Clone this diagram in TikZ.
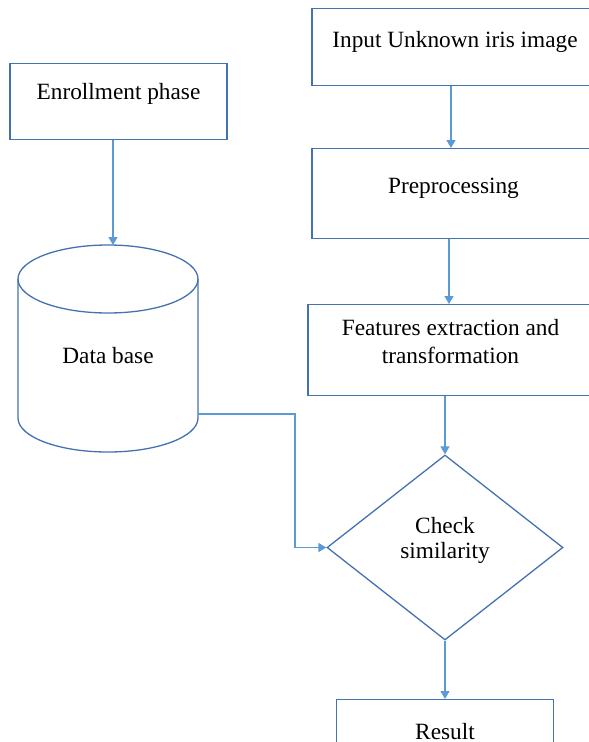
\documentclass[tikz,border=0pt]{standalone}
\usepackage{fontspec}
\setmainfont{Liberation Serif}
\usepackage{tikz}
\usetikzlibrary{arrows.meta,positioning,shapes.geometric}
\usepackage{xcolor}
\definecolor{boxblue}{RGB}{68,114,176}
\definecolor{arrowblue}{RGB}{91,155,213}

\begin{document}
\begin{tikzpicture}[x=1pt,y=-1pt,font=\fontsize{23.3}{25}\selectfont]
	\useasboundingbox (0,0) rectangle (589,742);
	\begin{scope}[every node/.style={draw=boxblue,line width=1.3pt,inner sep=0pt,anchor=north,align=center}]
		\node[minimum width=217pt,text height=36.5pt,text depth=40pt] (enroll) at (118.5,62.5) {Enrollment phase};
		\node[minimum width=286pt,text height=39pt,text depth=38pt] (input) at (455,8) {Input Unknown iris image};
		\node[minimum width=283pt,text height=45pt,text depth=45pt] (pre) at (453.5,148) {Preprocessing};
		\node[minimum width=285pt,text height=59pt,text depth=32pt] (feat) at (450.5,304) {Features extraction and\\[3pt]transformation};
		\node[diamond,anchor=center,minimum width=236pt,minimum height=185pt,text height=37pt,text depth=16pt] (check) at (445,547.5) {Check\\similarity};
		\node[minimum width=217pt,text height=40pt,text depth=40pt] (result) at (445,699) {Result};
	\end{scope}
	% data base
	\draw[boxblue,line width=1.3pt] (18,279) -- (18,418) arc[start angle=180,end angle=0,x radius=90,y radius=34] -- (198,279);
	\draw[boxblue,line width=1.3pt] (108,279) ellipse[x radius=90,y radius=34];
	\node[anchor=base] (db) at (108,363) {Data base};
	\coordinate (db top) at (113,245);
	\coordinate (db out) at (198,414);
	\begin{scope}[every path/.style={draw=arrowblue,line width=1.3pt,-{Triangle[length=8pt,width=9pt]}}]
		\draw (enroll.south -| db top) -- (db top);
		\draw ([xshift=-4pt]input.south) -- ([xshift=-4pt]input.south |- pre.north);
		\draw ([xshift=-4.5pt]pre.south) -- ([xshift=-4.5pt]pre.south |- feat.north);
		\draw (feat.south -| check.north) -- (check.north);
		\draw (check.south) -- (result.north);
		\draw (db out) -- ++(97,0) |- (check.west);
	\end{scope}
\end{tikzpicture}
\end{document}
